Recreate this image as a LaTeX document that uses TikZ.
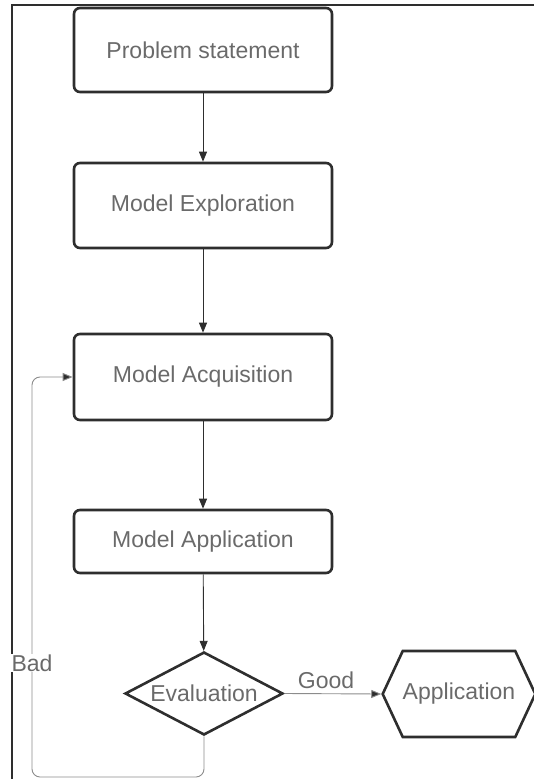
\documentclass[tikz,border=0pt]{standalone}
\usepackage{fontspec}
\setmainfont{Liberation Sans}
\usetikzlibrary{calc,positioning,arrows.meta,shapes.geometric,shapes.symbols}
\definecolor{txtgray}{HTML}{6A6A6A}
\definecolor{boxgray}{HTML}{2E2E2E}
\definecolor{linegray}{HTML}{8C8C8C}
\tikzstyle{process}  = [rectangle, rounded corners=6pt, minimum width=258pt, draw=boxgray, line width=2.6pt, text=txtgray, font=\fontsize{23}{27}\selectfont]
\tikzstyle{decision} = [diamond, aspect=1.9, inner sep=0pt, minimum width=158pt, minimum height=83pt, draw=boxgray, line width=2.6pt, text=txtgray, font=\fontsize{23}{27}\selectfont]
\tikzstyle{terminal} = [signal, signal to=west and east, signal pointer angle=130, inner sep=0pt, minimum width=130pt, minimum height=86pt, draw=boxgray, line width=2.6pt, text=txtgray, font=\fontsize{23}{27}\selectfont]
\tikzstyle{label}    = [text=txtgray, font=\fontsize{23}{27}\selectfont]
\tikzstyle{arrow}    = [line width=0.9pt, draw=boxgray, -{Triangle[length=10pt,width=8pt]}]
\tikzstyle{sidearrow} = [line width=0.9pt, draw=linegray, -{Triangle[length=10pt,width=8pt,fill=boxgray]}]

\begin{document}
\begin{tikzpicture}[x=1pt,y=-1pt]
        \useasboundingbox (0,0) rectangle (534,779);
        \draw[line width=1.5pt, boxgray] (12,779) -- (12,5) -- (534,5);

        \node[process, minimum height=84pt] (prob) at (203,50) {Problem statement};
        \node[process, minimum height=85pt] (expl) at (203,205.5) {Model Exploration};
        \node[process, minimum height=86pt] (acq) at (203,377) {Model Acquisition};
        \node[process, minimum height=63pt] (appl) at (203,541.5) {Model Application};
        \node[decision] (eval) at (204,693.5) {Evaluation};
        \node[terminal] (app) at (459,694) {Application};
        \coordinate (lb) at (32,777);

        \draw[arrow] (prob) -- (expl);
        \draw[arrow] (expl) -- (acq);
        \draw[arrow] (acq) -- (appl);
        \draw[arrow] (appl) -- (eval);
        \draw[sidearrow] (eval.east) -- (app.west);
        \draw[sidearrow, rounded corners=8pt] (eval.south) |- (lb) |- (acq.west);

        \node[label] (good) at (326,680) {Good};
        \node[label, fill=white, inner sep=1pt] (bad) at (32,663) {Bad};
    \end{tikzpicture}
\end{document}
